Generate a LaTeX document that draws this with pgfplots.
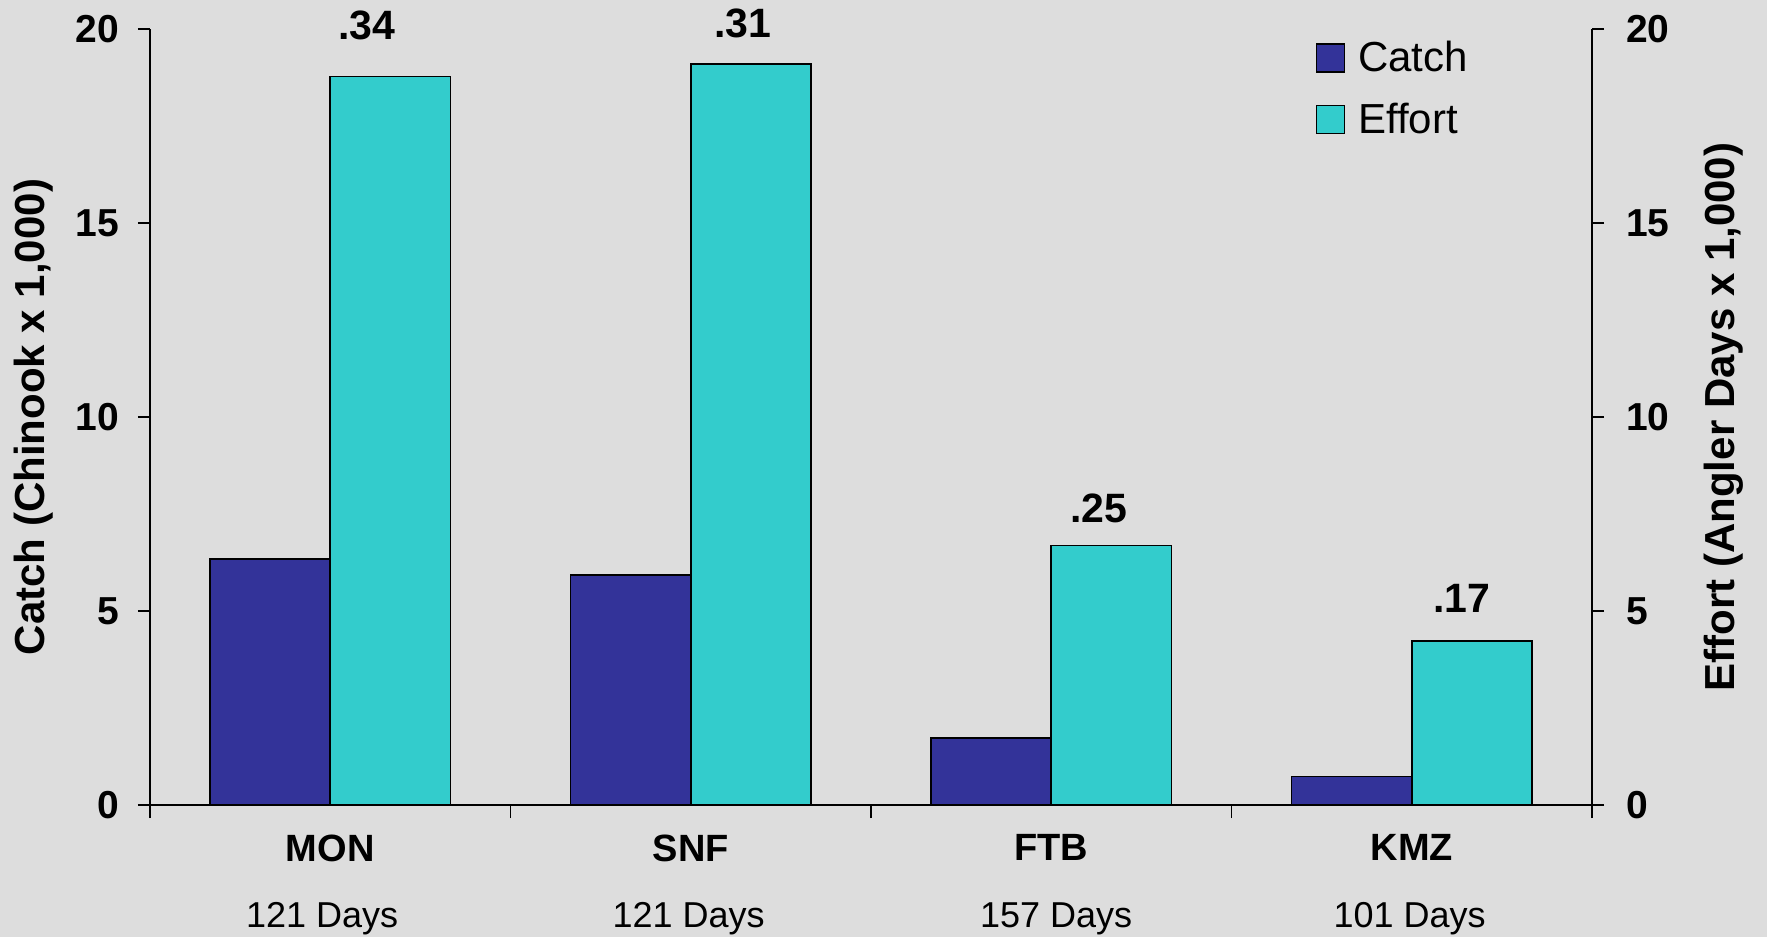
\documentclass[border=0pt]{standalone}
\usepackage{pgfplots}
\pgfplotsset{compat=1.18}
\usepackage{pgfplotstable}
\usepackage{fontspec}
\setmainfont{Liberation Sans}
\definecolor{bg}{HTML}{DDDDDD}
\definecolor{catchc}{HTML}{333399}
\definecolor{effortc}{HTML}{33CCCC}

\pgfplotstableread{
x y
0 6.34
1 5.93
2 1.72
3 0.73
}\catchdata

\pgfplotstableread{
x y lab dy dx
0 18.78 .34 25.7 -11.8
1 19.10 .31 20.2 -3.9
2 6.69 .25 18.6 -6.2
3 4.22 .17 21.2 -5.1
}\effortdata

\begin{document}
\begin{tikzpicture}
\fill[bg] (-75pt,-66pt) rectangle (808.5pt,402.5pt);
\begin{axis}[
  scale only axis, width=721pt, height=388pt,
  xmin=-0.5, xmax=3.5, ymin=0, ymax=20,
  axis x line*=bottom, axis y line*=left,
  axis line style={line width=0.8pt, -, black},
  tick style={line width=0.8pt, black},
  tick align=outside,
  major tick length=6pt, minor tick length=6.5pt,
  clip=false,
  ybar, bar width=0.3333,
  ytick={0,5,10,15,20},
  xtick={0,1,2,3},
  xticklabels={MON,SNF,FTB,KMZ},
  major x tick style={draw=none},
  minor xtick={-0.5,0.5,1.5,2.5,3.5},
  extra x ticks={0,1,2,3},
  extra x tick labels={121 Days\kern8pt,121 Days\kern2pt,\kern5pt157 Days,101 Days\kern2pt},
  extra x tick style={major x tick style={draw=none}, xticklabel style={font=\mdseries\fontsize{18pt}{21pt}\selectfont, yshift=-34pt}},
  /pgf/number format/assume math mode=true,
  tick label style={font=\bfseries\fontsize{19.5pt}{22pt}\selectfont},
  yticklabel style={xshift=-5.8pt},
  xticklabel style={font=\bfseries\fontsize{19pt}{22pt}\selectfont, yshift=-5.2pt},
  every axis y label/.style={at={(axis description cs:-0.0804,0.5)}, anchor=center, rotate=90, font=\bfseries\fontsize{21pt}{25pt}\selectfont},
  ylabel={Catch (Chinook x 1,000)},
  legend style={draw=none, fill=none, at={(rel axis cs:0.8039,0.995)}, anchor=north west,
    font=\fontsize{21pt}{25pt}\selectfont, row sep=10pt, cells={anchor=west}},
]
\addplot[fill=catchc, draw=black, line width=0.8pt, bar shift=-0.16667,
  legend image code/.code={\draw[fill=catchc, draw=black, line width=0.8pt] (0pt,-7pt) rectangle (14pt,7pt); \path (18.5pt,0pt);}]
  table[x=x, y=y] {\catchdata};
\addlegendentry{Catch}
\addplot[fill=effortc, draw=black, line width=0.8pt, bar shift=0.16667,
  legend image code/.code={\draw[fill=effortc, draw=black, line width=0.8pt] (0pt,-7pt) rectangle (14pt,7pt); \path (18.5pt,0pt);},
  nodes near coords, point meta=explicit symbolic,
  visualization depends on={\thisrow{dy} \as \dy},
  visualization depends on={\thisrow{dx} \as \dx},
  every node near coord/.append style={anchor=center, yshift=\dy pt, xshift=\dx pt, font=\bfseries\fontsize{20.5pt}{24pt}\selectfont, black}]
  table[x=x, y=y, meta=lab] {\effortdata};
\addlegendentry{Effort}
\end{axis}
\begin{axis}[
  scale only axis, width=721pt, height=388pt,
  xmin=-0.5, xmax=3.5, ymin=0, ymax=20,
  axis x line=none, axis y line*=right,
  axis line style={line width=0.8pt, -, black},
  tick style={line width=0.8pt, black},
  tick align=outside, major tick length=6pt,
  ytick={0,5,10,15,20},
  /pgf/number format/assume math mode=true,
  tick label style={font=\bfseries\fontsize{19.5pt}{22pt}\selectfont},
  yticklabel style={xshift=7.5pt},
  ylabel={Effort (Angler Days x 1,000)},
  every axis y label/.style={at={(axis description cs:1.0915,0.5)}, anchor=center, rotate=90, font=\bfseries\fontsize{21pt}{25pt}\selectfont},
]
\end{axis}
\pgfresetboundingbox
\path[use as bounding box] (-75pt,-66pt) rectangle (808.5pt,402.5pt);
\end{tikzpicture}
\end{document}
